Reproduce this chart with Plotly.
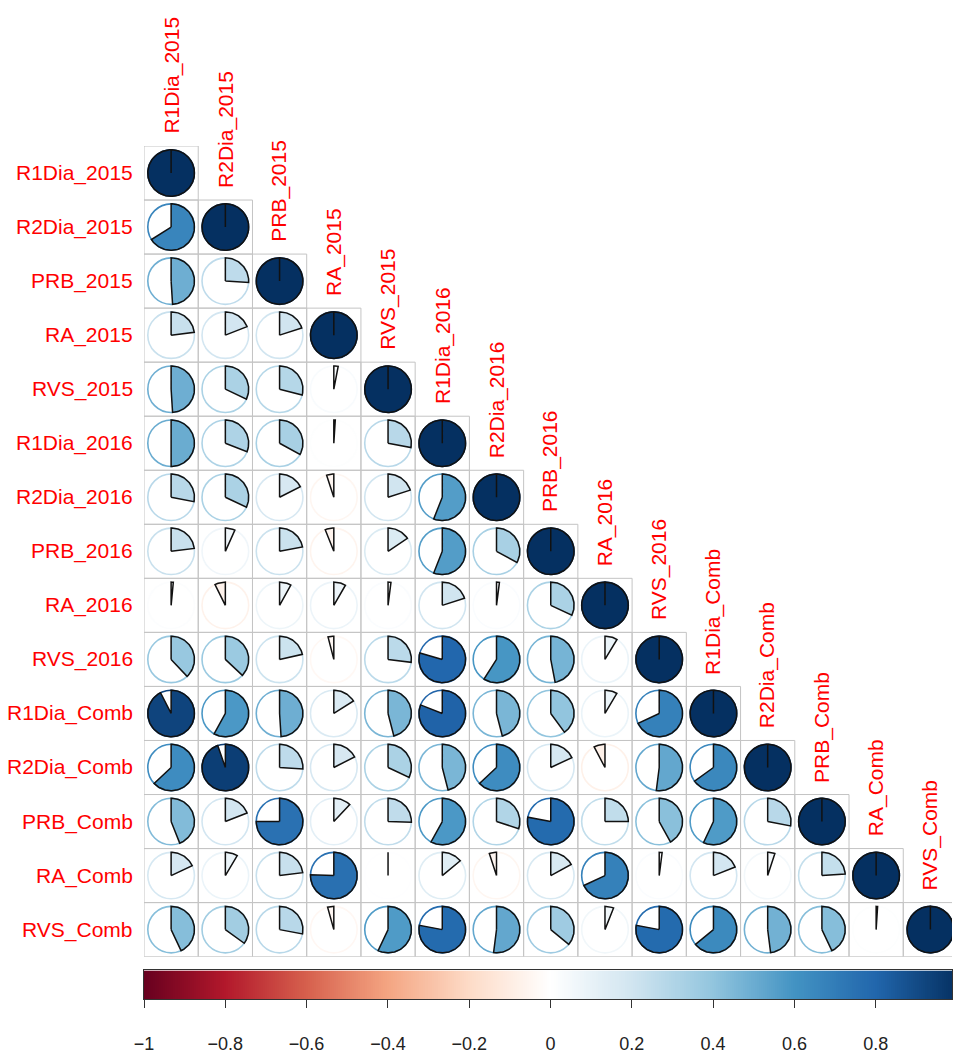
import numpy as np
import plotly.graph_objects as go
from plotly.colors import sample_colorscale

# Variables (rows and columns of the correlation matrix)
variables = ["R1Dia_2015", "R2Dia_2015", "PRB_2015", "RA_2015", "RVS_2015",
             "R1Dia_2016", "R2Dia_2016", "PRB_2016", "RA_2016", "RVS_2016",
             "R1Dia_Comb", "R2Dia_Comb", "PRB_Comb", "RA_Comb", "RVS_Comb"]

# Lower-triangle correlations, one list per row (excluding the diagonal)
row_R2Dia_2015 = [0.66]
row_PRB_2015 = [0.49, 0.26]
row_RA_2015 = [0.23, 0.19, 0.20]
row_RVS_2015 = [0.49, 0.32, 0.29, 0.03]
row_R1Dia_2016 = [0.50, 0.31, 0.33, 0.01, 0.28]
row_R2Dia_2016 = [0.28, 0.32, 0.175, -0.05, 0.20, 0.56]
row_PRB_2016 = [0.23, 0.067, 0.22, -0.06, 0.155, 0.56, 0.33]
row_RA_2016 = [0.015, -0.073, 0.08, 0.083, 0.02, 0.20, 0.02, 0.32]
row_RVS_2016 = [0.38, 0.37, 0.215, -0.04, 0.27, 0.795, 0.59, 0.47, 0.086]
row_R1Dia_Comb = [0.925, 0.58, 0.49, 0.16, 0.46, 0.81, 0.46, 0.40, 0.085, 0.68]
row_R2Dia_Comb = [0.63, 0.947, 0.26, 0.175, 0.32, 0.46, 0.63, 0.18, -0.077, 0.52, 0.65]
row_PRB_Comb = [0.44, 0.19, 0.75, 0.12, 0.255, 0.58, 0.30, 0.78, 0.25, 0.42, 0.57, 0.28]
row_RA_Comb = [0.18, 0.085, 0.23, 0.755, 0.005, 0.14, -0.05, 0.17, 0.68, 0.02, 0.19, 0.05, 0.24]
row_RVS_Comb = [0.43, 0.35, 0.28, -0.043, 0.57, 0.78, 0.52, 0.36, 0.06, 0.78, 0.64, 0.48, 0.43, 0.01]

lower_rows = [[], row_R2Dia_2015, row_PRB_2015, row_RA_2015, row_RVS_2015,
              row_R1Dia_2016, row_R2Dia_2016, row_PRB_2016, row_RA_2016, row_RVS_2016,
              row_R1Dia_Comb, row_R2Dia_Comb, row_PRB_Comb, row_RA_Comb, row_RVS_Comb]

colorbar_ticks = [-1, -0.8, -0.6, -0.4, -0.2, 0, 0.2, 0.4, 0.6, 0.8, 1]

# Diverging red-blue palette
rdbu = ["#67001F", "#B2182B", "#D6604D", "#F4A582", "#FDDBC7", "#FFFFFF",
        "#D1E5F0", "#92C5DE", "#4393C3", "#2166AC", "#053061"]
colorscale = [[k / (len(rdbu) - 1), c] for k, c in enumerate(rdbu)]


def value_color(v):
    return sample_colorscale(colorscale, [(v + 1) / 2], colortype="rgb")[0]


# Page geometry
W, H = 953, 1054
n = len(variables)
left, top, cell = 144, 145.7, 54.3
grid_bottom = top + n * cell
bar_top, bar_bottom, bar_right = 974, 1003, 958
paper_h = H - top
R = 0.43  # pie radius in cell units

LABEL_FONT = dict(family="Liberation Sans, Arial, sans-serif", size=21, color="red")

fig = go.Figure()
shapes = []
annotations = []

for i in range(1, n + 1):
    vals = lower_rows[i - 1] + [1.0]
    for j, v in enumerate(vals, start=1):
        col = value_color(v)
        # cell border
        shapes.append(dict(type="rect", xref="x", yref="y",
                           x0=j - 0.5, x1=j + 0.5, y0=i - 0.5, y1=i + 0.5,
                           line=dict(color="#c4c4c4", width=1), layer="below"))
        # background circle
        shapes.append(dict(type="circle", xref="x", yref="y",
                           x0=j - R, x1=j + R, y0=i - R, y1=i + R,
                           line=dict(color=col, width=1.6), layer="below"))
        # pie sector, clockwise from 12 o'clock for positive values
        npts = max(3, int(abs(v) * 180))
        t = np.linspace(0, 2 * np.pi * v, npts)
        xs = np.concatenate([[j], j + R * np.sin(t), [j]])
        ys = np.concatenate([[i], i - R * np.cos(t), [i]])
        fig.add_trace(go.Scatter(x=xs, y=ys, mode="lines", fill="toself",
                                 fillcolor=col,
                                 line=dict(color="#111111", width=1.5),
                                 hoverinfo="skip", showlegend=False,
                                 xaxis="x", yaxis="y"))

# Row labels (left) and column labels (above the diagonal)
for i, name in enumerate(variables, start=1):
    annotations.append(dict(xref="paper", yref="y", x=0, y=i, text=name,
                            showarrow=False, xanchor="right", yanchor="middle",
                            xshift=-9, font=LABEL_FONT))
    annotations.append(dict(xref="x", yref="y", x=i, y=i - 0.5, text=name,
                            showarrow=False, textangle=-90, xanchor="center",
                            yanchor="bottom", yshift=10, font=LABEL_FONT))

# Colour legend strip
grad = np.linspace(-1, 1, 401)
fig.add_trace(go.Heatmap(x=grad, y=[0], z=[grad], colorscale=colorscale,
                         zmin=-1, zmax=1, showscale=False, hoverinfo="skip",
                         xaxis="x2", yaxis="y2"))

fig.update_layout(
    width=W, height=H,
    margin=dict(l=left, r=0, t=top, b=0, pad=0),
    paper_bgcolor="white", plot_bgcolor="white",
    showlegend=False,
    shapes=shapes, annotations=annotations,
    xaxis=dict(domain=[0, 1], range=[0.5, 0.5 + (W - left) / cell],
               visible=False, anchor="y"),
    yaxis=dict(domain=[(H - grid_bottom) / paper_h, 1], range=[n + 0.5, 0.5],
               visible=False, anchor="x"),
    xaxis2=dict(domain=[0, 1],
                range=[-1, -1 + 2 * (W - left) / (bar_right - left)],
                anchor="y2", showgrid=False, zeroline=False,
                showline=True, mirror=True, linecolor="#333333", linewidth=1,
                ticks="outside", ticklen=8, tickcolor="#333333",
                tickvals=colorbar_ticks, ticklabelstandoff=20,
                tickfont=dict(family="Liberation Sans, Arial, sans-serif",
                              size=18, color="#222222")),
    yaxis2=dict(domain=[(H - bar_bottom) / paper_h, (H - bar_top) / paper_h],
                range=[-0.5, 0.5], anchor="x2", showgrid=False, zeroline=False,
                showticklabels=False, showline=True, mirror=True,
                linecolor="#333333", linewidth=1),
)

fig.write_html("out.html")
